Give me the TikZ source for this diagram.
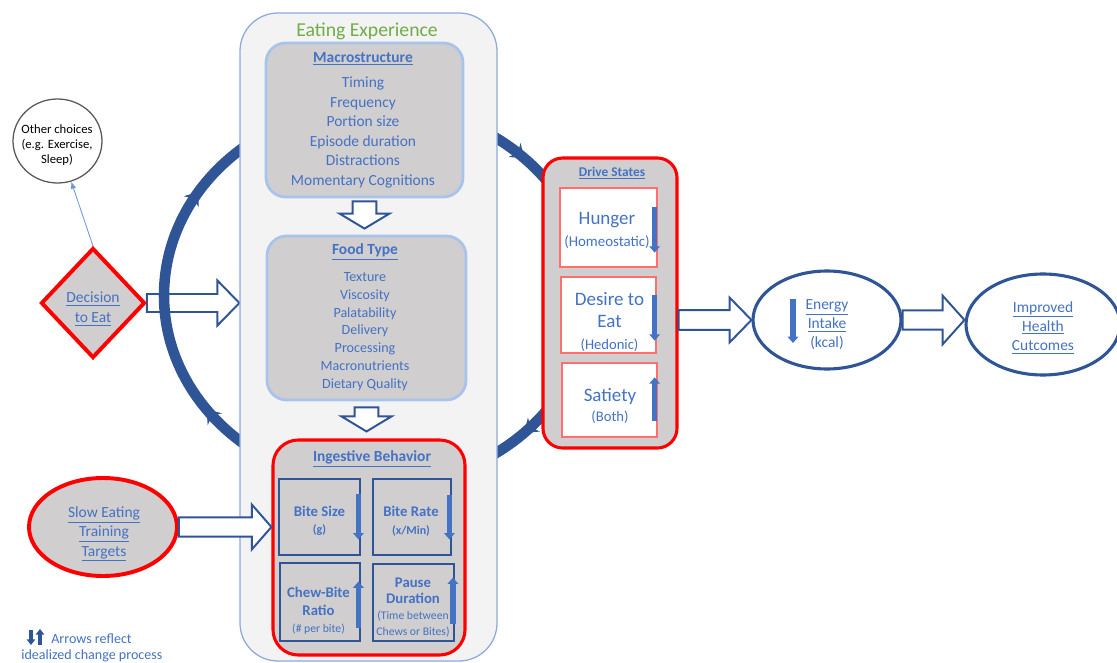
\documentclass[tikz,border=0pt]{standalone}
\usepackage{fontspec}
\setmainfont{Carlito}
\usetikzlibrary{calc,shapes.geometric,arrows.meta,decorations.markings}
\pgfdeclarelayer{background}
\pgfsetlayers{background,main}

\definecolor{navy}{HTML}{2F5597}
\definecolor{txtblue}{HTML}{4472C4}
\definecolor{boxgray}{HTML}{D0CECE}
\definecolor{panelgray}{HTML}{F3F3F3}
\definecolor{panelline}{HTML}{8FAADC}
\definecolor{softblue}{HTML}{A9C4EB}
\definecolor{softred}{HTML}{FF6F6F}
\definecolor{titlegreen}{HTML}{70AD47}
\definecolor{thinblue}{HTML}{6F96D8}

\newcommand{\px}{0.025cm}
\newcommand{\fsz}[2]{\fontsize{#1}{#2}\selectfont}
\newcommand{\lnk}[1]{\underline{#1}}
\def\bsw{7pt}\def\bhw{16pt}\def\bhl{15pt}

\tikzset{
  sized/.style 2 args={minimum width=#1*\px, minimum height=#2*\px},
  panelbox/.style={draw=panelline, line width=0.9pt, fill=panelgray, rounded corners=27pt, inner sep=0pt},
  greybox/.style={draw=softblue, line width=2pt, fill=boxgray, rounded corners=14pt, inner sep=0pt},
  redbox/.style={draw=red, line width=2.2pt, fill=boxgray, rounded corners=16pt, inner sep=0pt},
  innerbox/.style={draw=navy, line width=2pt, fill=boxgray, inner sep=0pt},
  drivecell/.style={draw=softred, line width=0.9pt, fill=white, inner sep=0pt},
  roundnode/.style={ellipse, inner sep=0pt},
  headtext/.style={font=\fsz{11}{13}\bfseries, text=txtblue},
  itemtext/.style={align=center, text=txtblue, inner sep=0pt},
  changearrow/.style={draw=txtblue, line width=4pt, -{Triangle[length=4.5pt,width=7.5pt]}},
  hollowsize/.code args={#1/#2/#3}{\def\bsw{#1}\def\bhw{#2}\def\bhl{#3}},
  blockarrow/.style={draw=navy, line width=1.4pt, fill=white,
    to path={($(\tikztostart)!\bsw!90:(\tikztotarget)$)
      -- ($($(\tikztotarget)!\bhl!(\tikztostart)$)!\bsw!-90:(\tikztostart)$)
      -- ($($(\tikztotarget)!\bhl!(\tikztostart)$)!\bhw!-90:(\tikztostart)$)
      -- (\tikztotarget)
      -- ($($(\tikztotarget)!\bhl!(\tikztostart)$)!\bhw!90:(\tikztostart)$)
      -- ($($(\tikztotarget)!\bhl!(\tikztostart)$)!\bsw!90:(\tikztostart)$)
      -- ($(\tikztostart)!\bsw!-90:(\tikztotarget)$) -- cycle}},
  cyclering/.style={draw=navy, line width=7.5pt, postaction={decorate},
    decoration={markings,
      mark=at position 0.124 with {\arrow{Stealth[length=9pt,width=13pt,inset=3pt]}},
      mark=at position 0.402 with {\arrow{Stealth[length=9pt,width=13pt,inset=3pt]}},
      mark=at position 0.588 with {\arrow{Stealth[length=9pt,width=13pt,inset=3pt]}},
      mark=at position 0.876 with {\arrow{Stealth[length=9pt,width=13pt,inset=3pt]}}}}
}

\begin{document}
\begin{tikzpicture}[x=0.025cm, y=-0.025cm]
		%%%%% START %%%%%
		\useasboundingbox (0,0) rectangle (1117,663);
		
		% eating experience panel
		\node[panelbox, sized={257}{648}] (eat) at (368.5,337) {};
		\node[font=\fsz{14}{16}, text=titlegreen] (eattitle) at (367,31) {Eating Experience};
		
		\node[greybox, sized={197}{154}] (macro) at (364.5,120) {};
		\node[headtext] (macrotitle) at (363,59) {\lnk{Macrostructure}};
		\node[itemtext, font=\fsz{11}{13.8}] (macroitems) at (363,132.5) {Timing\\Frequency\\Portion size\\Episode duration\\Distractions\\Momentary Cognitions};
		
		\node[greybox, sized={199}{164}] (food) at (366.5,318) {};
		\node[headtext] (foodtitle) at (365,252) {\lnk{Food Type}};
		\node[itemtext, font=\fsz{10}{12.7}] (fooditems) at (365,331.5) {Texture\\Viscosity\\Palatability\\Delivery\\Processing\\Macronutrients\\Dietary Quality};
		
		\node[redbox, sized={192}{215}, rounded corners=18pt] (ing) at (369,547.5) {};
		\node[headtext] (ingtitle) at (372,459) {\lnk{Ingestive Behavior}};
		\node[innerbox, sized={81}{76}] (bsize) at (319.5,517) {};
		\node[innerbox, sized={78}{76}] (brate) at (412,517) {};
		\node[innerbox, sized={80}{78}] (cbr) at (320,602) {};
		\node[innerbox, sized={81}{77}] (pdur) at (413.5,602.5) {};
		\node[itemtext, font=\fsz{10.5}{12.5}\bfseries] (bsizetext) at (319.5,521) {Bite Size\\{\fsz{8.5}{10}(g)}};
		\node[itemtext, font=\fsz{10.5}{12.5}\bfseries] (bratetext) at (411,521) {Bite Rate\\{\fsz{8.5}{10}(x/Min)}};
		\node[itemtext, font=\fsz{10.5}{12.3}\bfseries] (cbrtext) at (318.5,611) {Chew-Bite\\Ratio\\{\fsz{8.3}{10}\mdseries(\# per bite)}};
		\node[itemtext, font=\fsz{10.5}{11.6}\bfseries] (pdurtext) at (413,607.5) {Pause\\Duration\\{\fsz{8.3}{10}\mdseries(Time between}\\{\fsz{8.3}{10}\mdseries Chews or Bites)}};
		
		\draw[changearrow] ($(bsize.north east)+(-3,16)$) -- ($(bsize.south east)+(-3,-17)$);
		\draw[changearrow] ($(brate.north east)+(-3,17)$) -- ($(brate.south east)+(-3,-17)$);
		\draw[changearrow] ($(cbr.south east)+(-3,-14)$) -- ($(cbr.north east)+(-3,20)$);
		\draw[changearrow] ($(pdur.south east)+(-2.5,-18)$) -- ($(pdur.north east)+(-2.5,15)$);
		
		% drive states
		\node[redbox, sized={134}{290}, rounded corners=14pt] (drive) at (610,303) {};
		\node[headtext, font=\fsz{9.5}{11}\bfseries] (drivetitle) at (612,173) {\lnk{Drive States}};
		\node[drivecell, sized={97}{79}] (hunger) at (608.5,227.5) {};
		\node[drivecell, sized={95}{76}] (desire) at (608.5,315) {};
		\node[drivecell, sized={95}{74}] (satiety) at (609.5,400) {};
		\node[itemtext, font=\fsz{13.5}{15.8}] (hungertext) at (607,230.5) {Hunger\\{\fsz{10.6}{12}(Homeostatic)}};
		\node[itemtext, font=\fsz{13.5}{15.4}] (desiretext) at (609.5,322) {Desire to\\Eat\\{\fsz{10.4}{12}(Hedonic)}};
		\node[itemtext, font=\fsz{13.5}{14.2}] (satietytext) at (610,405.5) {Satiety\\{\fsz{10.4}{12}(Both)}};
		
		\draw[changearrow] ($(hunger.north east)+(-3,20)$) -- ($(hunger.south east)+(-3,-15)$);
		\draw[changearrow] ($(desire.north east)+(-2,19)$) -- ($(desire.south east)+(-2,-13)$);
		\draw[changearrow] ($(satiety.south east)+(-3,-17)$) -- ($(satiety.north east)+(-3,15)$);
		
		% left side
		\node[draw=black!65, line width=0.9pt, fill=white, roundnode, sized={89}{84}] (other) at (57.5,141) {};
		\node[align=center, inner sep=0pt, font=\fsz{9}{10.7}] (othertext) at (57,145) {Other choices\\(e.g. Exercise,\\Sleep)};
		\node[draw=red, line width=2.8pt, fill=boxgray, diamond, sized={104}{110}, inner sep=0pt] (dec) at (93,303) {};
		\node[itemtext, font=\fsz{11}{14.2}] (dectext) at (93,309) {\lnk{Decision}\\\lnk{to Eat}};
		\draw[thinblue, line width=0.6pt, -{Latex[length=5pt,width=4pt]}] (dec.north) -- (other);
		
		\node[draw=red, line width=2.8pt, fill=boxgray, roundnode, sized={148}{98}] (slow) at (103,527) {};
		\node[itemtext, font=\fsz{11}{13.8}] (slowtext) at (104,534) {\lnk{Slow Eating}\\\lnk{Training}\\\lnk{Targets}};
		
		% right side
		\node[draw=navy, line width=2.2pt, fill=white, roundnode, sized={148}{98}] (energy) at (827,320) {};
		\node[itemtext, font=\fsz{11}{13.5}] (energytext) at (827,325) {\lnk{Energy}\\\lnk{Intake}\\(kcal)};
		\draw[changearrow] ($(energy.center)+(-34,-21)$) -- ($(energy.center)+(-34,23)$);
		\node[draw=navy, line width=2.2pt, fill=white, roundnode, sized={154}{101}] (improved) at (1043,324.5) {};
		\node[itemtext, font=\fsz{11}{13.8}] (improvedtext) at (1043,327.5) {\lnk{Improved}\\\lnk{Health}\\\lnk{Cutcomes}};
		
		% block arrows
		\coordinate (decin) at (dec.east -| eat.west);
		\coordinate (slowin) at (slow.east -| ing.west);
		\coordinate (driveout) at (drive.east |- energy.west);
		\coordinate (impin) at (energy.east -| improved.west);
		\coordinate (mtop) at ($(macro.south)+(0,3)$);
		\coordinate (mbot) at ($(macro.south |- food.north)+(0,-6)$);
		\coordinate (ftop) at ($(food.south)+(0,6)$);
		\coordinate (fbot) at ($(food.south |- ing.north)+(0,-7)$);
		
		\draw[blockarrow, hollowsize=6.8pt/16pt/14pt] (slow.east) to (slowin);
		\draw[blockarrow, hollowsize=7pt/16pt/15.6pt] (driveout) to (energy.west);
		\draw[blockarrow, hollowsize=6.8pt/17.4pt/15.6pt] (energy.east) to (impin);
		\draw[blockarrow, hollowsize=8.5pt/17.8pt/10.7pt] (mtop) to (mbot);
		\draw[blockarrow, hollowsize=8.5pt/17.8pt/10.7pt] (ftop) to (fbot);
		
		\begin{pgfonlayer}{background}
			\draw[blockarrow, hollowsize=6.4pt/16pt/15.6pt] (dec.east) to (decin);
			\draw[cyclering] (377,295.5) ellipse [x radius=213, y radius=190];
		\end{pgfonlayer}
		
		% legend
		\draw[navy, line width=3pt, -{Triangle[length=4pt,width=6pt]}] (31,630) -- (31,645);
		\draw[navy, line width=3pt, -{Triangle[length=4pt,width=6pt]}] (40,645) -- (40,629);
		\node[anchor=west, inner sep=0pt, text=txtblue, font=\fsz{10}{12}] (legendA) at (51,639) {Arrows reflect};
		\node[anchor=west, inner sep=0pt, text=txtblue, font=\fsz{10}{12}] (legendB) at (21,656) {idealized change process};
		
		%%%%% END %%%%%
	\end{tikzpicture}
\end{document}
